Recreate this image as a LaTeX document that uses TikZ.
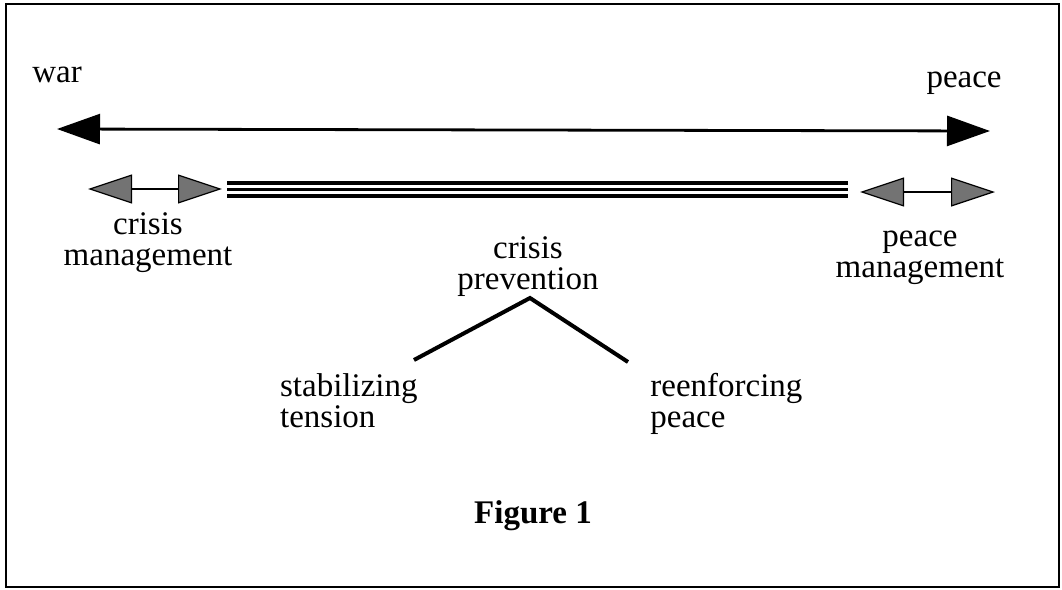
\documentclass[tikz,border=0pt]{standalone}
\usepackage{fontspec}
\setmainfont{Liberation Serif}
\usetikzlibrary{arrows.meta,positioning}

\begin{document}
\begin{tikzpicture}[x=0.5pt, y=-0.5pt, >=Triangle,
  lbl/.style={align=center, font=\fontsize{16.5}{15.5}\selectfont, inner sep=0pt},
  bigarrow/.style={draw, line width=1.4pt,
    {Triangle[length=21.5pt,width=15pt]}-{Triangle[length=21.5pt,width=15pt]}},
  hatcharrow/.style={draw, line width=0.6pt,
    {Triangle[length=22pt,width=14.5pt,fill=black!55,line width=0.6pt]}-{Triangle[length=22pt,width=14.5pt,fill=black!55,line width=0.6pt]}},
  band/.style={draw, line width=1.6pt}]

  \useasboundingbox (0,0) rectangle (1062,590);

  % Frame
  \draw[line width=1.2pt] (6,4) rectangle (1059,587);

  % Ends of the scale
  \node[lbl, anchor=base west] (war) at (32,82) {war};
  \node[lbl, anchor=base east] (peace) at (1002,87) {peace};
  \coordinate (warend) at (57,129);
  \coordinate (peaceend) at (990,131);
  \draw[bigarrow] (warend) -- (peaceend);

  % Management zones
  \coordinate (cmL) at (88,189);
  \coordinate (cmR) at (222,189);
  \draw[hatcharrow] (cmL) -- (cmR);
  \coordinate (pmL) at (860,192);
  \coordinate (pmR) at (995,192);
  \draw[hatcharrow] (pmL) -- (pmR);

  % Prevention band
  \foreach \y in {183,189.5,196} {
    \draw[band] (227,\y) -- (848,\y);
  }

  % Labels (base = last line)
  \node[lbl, anchor=base] (crisisman) at (148,265) {crisis\\management};
  \node[lbl, anchor=base] (peaceman) at (920,277) {peace\\management};
  \node[lbl, anchor=base] (crisisprev) at (528,289) {crisis\\prevention};

  % Branches
  \coordinate (apex) at (530,298);
  \coordinate (stabend) at (414,360);
  \coordinate (reenfend) at (628,362);
  \draw[line width=2pt] (stabend) -- (apex) -- (reenfend);

  \node[lbl, anchor=base east, align=left] (stab) at (418,427) {stabilizing\\tension};
  \node[lbl, anchor=base west, align=left] (reenf) at (650,427) {reenforcing\\peace};

  % Caption
  \node[lbl, anchor=base, font=\fontsize{16.5}{16}\selectfont\bfseries] (fig) at (533,523) {Figure 1};

\end{tikzpicture}
\end{document}
